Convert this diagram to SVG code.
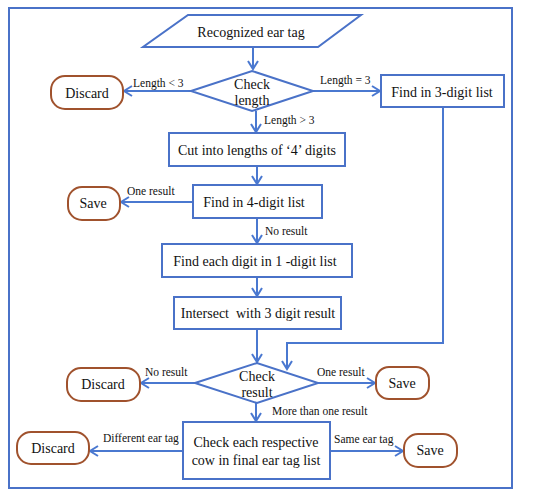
<svg xmlns="http://www.w3.org/2000/svg" width="550" height="498" viewBox="0 0 550 498">
<defs>
<marker id="ah" markerWidth="12" markerHeight="12" refX="9" refY="6" orient="auto" markerUnits="userSpaceOnUse">
<path d="M1,1 L9,6 L1,11" fill="none" stroke="#4a78d0" stroke-width="2"/>
</marker>
</defs>
<style>
.box{fill:#fff;stroke:#4a72c8;stroke-width:2}
.term{fill:#fff;stroke:#a0522d;stroke-width:2}
.t{font-family:"Liberation Serif","Times New Roman",serif;font-size:14px;fill:#111;text-anchor:middle}
.l{font-family:"Liberation Serif","Times New Roman",serif;font-size:11.5px;fill:#111}
.c{fill:none;stroke:#4a78d0;stroke-width:2}
</style>
<rect x="0" y="0" width="550" height="498" fill="#fff"/>
<rect x="9" y="8" width="503" height="480" fill="none" stroke="#4a72c8" stroke-width="2"/>

<g id="connectors">
<path class="c" d="M253,47 V69" marker-end="url(#ah)"/>
<path class="c" d="M191,91 H124" marker-end="url(#ah)"/>
<path class="c" d="M313,91 H380" marker-end="url(#ah)"/>
<path class="c" d="M256,111 V132" marker-end="url(#ah)"/>
<path class="c" d="M257,166 V184" marker-end="url(#ah)"/>
<path class="c" d="M193,202 H121" marker-end="url(#ah)"/>
<path class="c" d="M257,218 V243" marker-end="url(#ah)"/>
<path class="c" d="M257,277 V296" marker-end="url(#ah)"/>
<path class="c" d="M257,329 V362" marker-end="url(#ah)"/>
<path class="c" d="M443,107 V343 H287 V369" marker-end="url(#ah)"/>
<path class="c" d="M195,383 H141" marker-end="url(#ah)"/>
<path class="c" d="M318,383 H375" marker-end="url(#ah)"/>
<path class="c" d="M256,403 V421" marker-end="url(#ah)"/>
<path class="c" d="M183,451 H90" marker-end="url(#ah)"/>
<path class="c" d="M330,451 H403" marker-end="url(#ah)"/>
<text class="l" x="133" y="87">Length &lt; 3</text>
<text class="l" x="320" y="84">Length = 3</text>
<text class="l" x="264" y="124">Length &gt; 3</text>
<text class="l" x="127" y="195">One result</text>
<text class="l" x="265" y="235">No result</text>
<text class="l" x="145" y="376">No result</text>
<text class="l" x="317" y="376">One result</text>
<text class="l" x="272" y="415">More than one result</text>
<text class="l" x="103" y="442">Different ear tag</text>
<text class="l" x="334" y="443">Same ear tag</text>
</g>

<g id="start">
<polygon class="box" points="188,15 361,15 318,47 143,47"/>
<text class="t" x="251" y="37">Recognized ear tag</text>
</g>
<g id="check-length">
<polygon class="box" points="191,91 252,71 313,91 252,111"/>
<text class="t" x="252" y="89">Check</text>
<text class="t" x="252" y="105">length</text>
</g>
<g id="discard1">
<rect class="term" x="51" y="76" width="72" height="33" rx="14"/>
<text class="t" x="87" y="98">Discard</text>
</g>
<g id="find3">
<rect class="box" x="381" y="75" width="123" height="32"/>
<text class="t" x="442" y="97">Find in 3-digit list</text>
</g>
<g id="cut">
<rect class="box" x="169" y="133" width="176" height="33"/>
<text class="t" x="257" y="155">Cut into lengths of ‘4’ digits</text>
</g>
<g id="save1">
<rect class="term" x="68" y="187" width="52" height="33" rx="14" stroke="#6b3a10"/>
<text class="t" x="93" y="208">Save</text>
</g>
<g id="find4">
<rect class="box" x="193" y="185" width="129" height="33"/>
<text class="t" x="254" y="207">Find in 4-digit list</text>
</g>
<g id="find1">
<rect class="box" x="162" y="244" width="190" height="33"/>
<text class="t" x="255" y="266">Find each digit in 1 -digit list</text>
</g>
<g id="intersect">
<rect class="box" x="174" y="297" width="167" height="32"/>
<text class="t" x="258" y="318" xml:space="preserve">Intersect  with 3 digit result</text>
</g>
<g id="check-result">
<polygon class="box" points="195,383 257,363 318,383 257,403"/>
<text class="t" x="257" y="381">Check</text>
<text class="t" x="257" y="397">result</text>
</g>
<g id="discard2">
<rect class="term" x="67" y="368" width="73" height="33" rx="14"/>
<text class="t" x="103" y="389">Discard</text>
</g>
<g id="save2">
<rect class="term" x="376" y="367" width="53" height="32" rx="13"/>
<text class="t" x="402" y="388">Save</text>
</g>
<g id="check-each">
<rect class="box" x="183" y="422" width="147" height="57"/>
<text class="t" x="256" y="447">Check each respective</text>
<text class="t" x="256" y="465">cow in final ear tag list</text>
</g>
<g id="discard3">
<rect class="term" x="17" y="432" width="72" height="32" rx="14"/>
<text class="t" x="53" y="453">Discard</text>
</g>
<g id="save3">
<rect class="term" x="404" y="434" width="53" height="33" rx="14"/>
<text class="t" x="430" y="455">Save</text>
</g>
</svg>
